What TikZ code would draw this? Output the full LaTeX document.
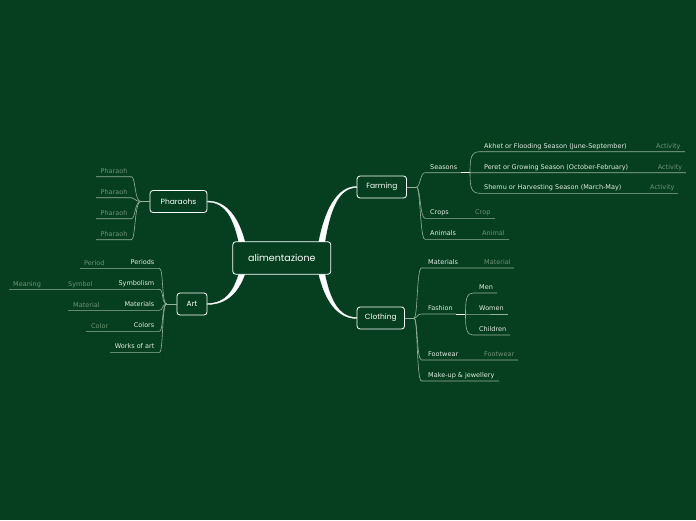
\documentclass[tikz,border=0pt]{standalone}
\usepackage{fontspec}
\setmainfont{DejaVu Sans}
\newfontfamily\handfont{Poppins}
\usetikzlibrary{positioning, calc, backgrounds}
\definecolor{boardBg}{RGB}{5,63,31}
\definecolor{twigLine}{RGB}{150,178,155}
\definecolor{leafText}{RGB}{112,146,118}
\definecolor{subText}{RGB}{228,236,229}
\tikzset{
    topic/.style={
        rounded corners=3pt, draw=white, fill=boardBg, line width=0.8pt,
        text=white, inner sep=0pt, minimum height=22pt,
        font=\handfont\fontsize{7.5}{8}\selectfont
    },
    rootnode/.style={topic, minimum height=32.5pt, minimum width=98pt,
        font=\handfont\fontsize{9.5}{10}\selectfont},
    subtopic/.style={font=\fontsize{6.5}{7}\selectfont, text=subText, inner sep=0pt},
    leafnote/.style={subtopic, text=leafText},
    twig/.style={draw=twigLine, line width=0.6pt},
    knot/.style={draw=white, line width=1pt},
    stem/.style={fill=white, draw=white, line width=0.3pt}
}
\begin{document}
\begin{tikzpicture}[x=1pt, y=-1pt]
  \useasboundingbox (0,0) rectangle (696,520);
  % main topics
  \node[rootnode] (root) at (281.8,258) {alimentazione};
  \node[topic, minimum width=57pt] (pharaohs) at (178.5,201.5) {Pharaohs};
  \node[topic, minimum width=30pt] (art) at (192,304) {Art};
  \node[topic, minimum width=49.5pt] (farming) at (381.8,187) {Farming};
  \node[topic, minimum width=47.5pt] (clothing) at (380.8,318) {Clothing};

  \begin{pgfonlayer}{background}
    \fill[boardBg] (0,0) rectangle (696,520);
    % tapered stems from the root
    \fill[stem] ($(root.north)+(37,0.5)$) .. controls +(6,-31) and +(-20,0) .. ($(farming.west)+(0,-0.5)$)
      -- ($(farming.west)+(0,0.5)$) .. controls +(-19,0) and +(5,-30) .. ($(root.north)+(43,0.5)$) -- cycle;
    \fill[stem] ($(root.north)+(-37,0.5)$) .. controls +(-6,-23) and +(20,0) .. ($(pharaohs.east)+(0,-0.5)$)
      -- ($(pharaohs.east)+(0,0.5)$) .. controls +(19,0) and +(-5,-22) .. ($(root.north)+(-43,0.5)$) -- cycle;
    \fill[stem] ($(root.south)+(37,-0.5)$) .. controls +(6,25) and +(-20,0) .. ($(clothing.west)+(0,0.5)$)
      -- ($(clothing.west)+(0,-0.5)$) .. controls +(-19,0) and +(5,24) .. ($(root.south)+(43,-0.5)$) -- cycle;
    \fill[stem] ($(root.south)+(-37,-0.5)$) .. controls +(-6,17) and +(20,0) .. ($(art.east)+(0,0.5)$)
      -- ($(art.east)+(0,-0.5)$) .. controls +(19,0) and +(-5,16) .. ($(root.south)+(-43,-0.5)$) -- cycle;
  \end{pgfonlayer}

  % Pharaohs
  \coordinate (ph-fork) at ($(pharaohs.west)+(-9,0)$);
  \draw[twig] (pharaohs.west) -- (ph-fork);
  \foreach \y/\n in {176.7/1, 197.7/2, 218.7/3, 239.7/4} {
    \coordinate (ph-in-\n) at (131.5,\y);
    \coordinate (ph-out-\n) at (96,\y);
    \draw[twig] (ph-fork) .. controls +(-6,0) and +(4,0) .. (ph-in-\n) -- (ph-out-\n);
    \node[leafnote, anchor=base west] (ph-\n) at (100.5,\y-3.4) {Pharaoh};
  }

  % Art
  \coordinate (art-fork) at ($(art.west)+(-10,0)$);
  \draw[twig] (art.west) -- (art-fork);
  \foreach \y/\x/\n/\t in {268.3/80/1/Periods, 289.3/9/2/Symbolism, 310.3/68/3/Materials,
                           331.3/86/4/Colors, 352.3/110/5/Works of art} {
    \coordinate (art-in-\n) at (159.5,\y);
    \coordinate (art-out-\n) at (\x,\y);
    \draw[twig] (art-fork) .. controls +(-5,0) and +(4,0) .. (art-in-\n) -- (art-out-\n);
    \node[subtopic, anchor=base east] (art-\n) at (154.5,\y-3.4) {\t};
  }
  \node[leafnote, anchor=base west] (period) at (84,265) {Period};
  \node[leafnote, anchor=base west] (symbol) at (68,286) {Symbol};
  \node[leafnote, anchor=base west] (meaning) at (13,286) {Meaning};
  \node[leafnote, anchor=base west] (material) at (73,307) {Material};
  \node[leafnote, anchor=base west] (color) at (91,328) {Color};

  % Farming
  \coordinate (fa-fork) at ($(farming.east)+(9.5,0)$);
  \draw[twig] (farming.east) -- (fa-fork);
  \foreach \y/\x/\n/\t in {172.7/461/1/Seasons, 218.3/495/2/Crops, 239.3/509/3/Animals} {
    \coordinate (fa-in-\n) at (425,\y);
    \coordinate (fa-out-\n) at (\x,\y);
    \draw[twig] (fa-fork) .. controls +(4,0) and +(-5,0) .. (fa-in-\n) -- (fa-out-\n);
    \node[subtopic, anchor=base west] (fa-\n) at (430,\y-3.4) {\t};
  }
  \coordinate (se-fork) at (470,172.7);
  \draw[knot] (fa-out-1) -- (se-fork);
  \foreach \y/\x/\a/\n/\t in {151.7/685/656/1/Akhet or Flooding Season (June-September),
                              172.7/686/657.7/2/Peret or Growing Season (October-February),
                              193.3/678/650/3/Shemu or Harvesting Season (March-May)} {
    \coordinate (se-in-\n) at (480,\y);
    \coordinate (se-out-\n) at (\x,\y);
    \draw[twig] (se-fork) .. controls ($(se-fork)!0.7!(470,\y)$) and (471,\y) .. (se-in-\n) -- (se-out-\n);
    \node[subtopic, anchor=base west] (se-\n) at (484,\y-3.4) {\t};
    \node[leafnote, anchor=base west] (act-\n) at (\a,\y-3.4) {Activity};
  }
  \node[leafnote, anchor=base west] (crop) at (475,214.9) {Crop};
  \node[leafnote, anchor=base west] (animal) at (482,235.9) {Animal};

  % Clothing
  \coordinate (cl-fork) at ($(clothing.east)+(9,0)$);
  \draw[twig] (clothing.east) -- (cl-fork);
  \foreach \y/\x/\n/\t in {268/514/1/Materials, 314/456/2/Fashion, 360/518/3/Footwear,
                           381/499/4/Make-up \& jewellery} {
    \coordinate (cl-in-\n) at (421.5,\y);
    \coordinate (cl-out-\n) at (\x,\y);
    \draw[twig] (cl-fork) .. controls +(4,0) and +(-5,0) .. (cl-in-\n) -- (cl-out-\n);
    \node[subtopic, anchor=base west] (cl-\n) at (428,\y-3.4) {\t};
  }
  \node[leafnote, anchor=base west] (cl-material) at (484,264.6) {Material};
  \node[leafnote, anchor=base west] (cl-footwear) at (484,356.6) {Footwear};
  \coordinate (fs-fork) at (465.5,314);
  \draw[knot] (cl-out-2) -- (fs-fork);
  \foreach \y/\x/\n/\t in {293/497/1/Men, 314/508/2/Women, 335/510/3/Children} {
    \coordinate (fs-in-\n) at (473,\y);
    \coordinate (fs-out-\n) at (\x,\y);
    \draw[twig] (fs-fork) .. controls ($(fs-fork)!0.7!(465.5,\y)$) and (466.5,\y) .. (fs-in-\n) -- (fs-out-\n);
    \node[subtopic, anchor=base west] (fs-\n) at (479,\y-3.4) {\t};
  }
\end{tikzpicture}
\end{document}
